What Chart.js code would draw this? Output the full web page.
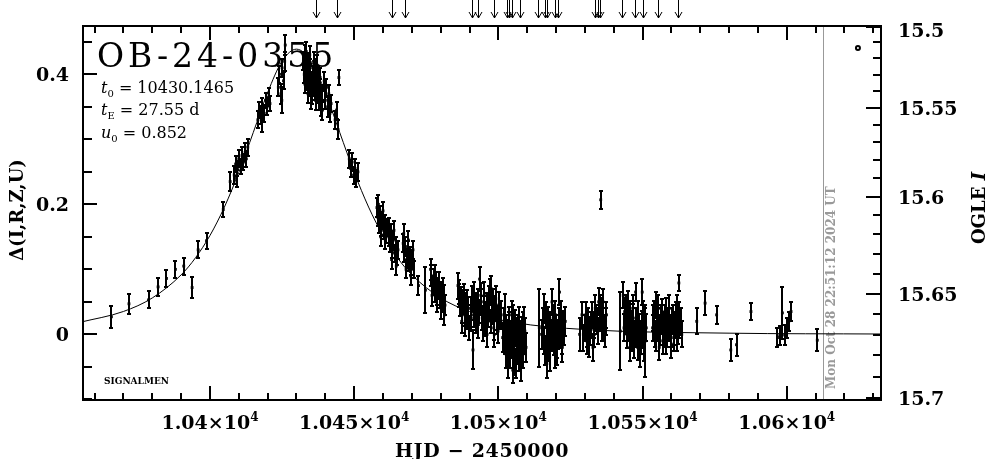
<!DOCTYPE html>
<html>
<head>
<meta charset="utf-8">
<script src="https://cdn.jsdelivr.net/npm/chart.js@4/dist/chart.umd.min.js"></script>
<style>
  html, body { margin: 0; padding: 0; background: #fff; }
  #lc { display: block; }
</style>
</head>
<body>
<canvas id="lc" width="986" height="459"></canvas>
<script>
"use strict";

// OGLE photometry: HJD-2450000, delta flux, error
const hjd = [
  10365.8, 10371.9, 10378.7, 10382.0, 10384.9, 10388.0, 10390.9, 10393.8, 10395.9, 10398.8, 10404.6, 10407.0,
  10408.4, 10408.9, 10409.2, 10409.5, 10410.0, 10410.6, 10411.1, 10411.6, 10412.2, 10412.6, 10413.1,
  10416.6, 10417.1, 10417.6, 10417.9, 10418.2, 10418.8, 10419.3, 10419.8, 10420.3, 10420.8,
  10423.7, 10424.1, 10424.6, 10424.9, 10425.0, 10425.5, 10425.9, 10426.1,
  10432.4, 10432.7, 10433.0, 10433.3, 10433.6, 10433.9, 10434.2, 10434.5, 10434.8, 10435.1, 10435.4, 10435.7,
  10436.0, 10436.3, 10436.6, 10436.9, 10437.2, 10437.5, 10437.8, 10438.1, 10438.4, 10438.7, 10439.0,
  10439.6, 10440.0, 10440.4, 10440.8, 10441.2, 10441.6, 10442.0, 10443.4, 10443.9, 10444.4, 10444.7,
  10448.3, 10448.8, 10449.3, 10449.8, 10450.3, 10450.8, 10451.3,
  10457.9, 10458.2, 10458.6, 10459.0, 10459.4, 10459.8, 10460.2, 10460.6, 10461.0, 10461.4,
  10462.0, 10462.4, 10462.8, 10463.2, 10463.6, 10464.0, 10464.4, 10464.8, 10465.2,
  10467.0, 10467.4, 10467.8, 10468.2, 10468.6, 10469.0, 10469.4, 10469.8, 10470.2, 10470.6,
  10472.3, 10474.7,
  10476.8, 10477.2, 10477.6, 10478.0, 10478.4, 10478.8, 10479.2, 10479.6, 10480.0, 10480.5, 10481.0, 10481.5,
  10486.0, 10486.3, 10486.7, 10487.1, 10487.5, 10487.9, 10488.3, 10488.7, 10489.1, 10489.5,
  10490.4, 10490.9, 10491.2, 10491.4, 10491.9, 10492.4, 10492.9, 10493.4, 10493.5, 10493.9, 10494.4, 10494.9,
  10495.4, 10495.9, 10496.4, 10496.9, 10497.4, 10497.6, 10497.9, 10498.4, 10498.9, 10499.4, 10499.9, 10500.4,
  10502.0, 10502.4, 10502.8, 10503.2, 10503.6, 10504.0, 10504.4, 10504.8, 10505.0, 10505.2, 10505.6, 10506.0,
  10506.4, 10506.8, 10507.2, 10507.6, 10508.0, 10508.4, 10508.8, 10509.2,
  10514.2, 10515.5, 10516.0, 10516.5, 10516.8, 10517.0, 10517.5, 10518.0, 10518.5, 10518.6, 10519.0, 10519.5,
  10520.0, 10520.5, 10521.0, 10521.2, 10521.5, 10522.0, 10522.5,
  10528.2, 10530.0, 10530.6, 10531.2, 10531.8, 10532.4, 10532.8, 10533.0, 10533.6, 10534.2, 10534.8, 10535.4,
  10535.5, 10536.0, 10536.6, 10537.2,
  10542.3, 10543.3, 10543.8, 10544.3, 10544.8, 10545.3, 10545.8, 10546.3, 10546.8, 10547.3, 10547.6, 10547.8,
  10548.3, 10548.8, 10549.3, 10549.8, 10549.9, 10550.3, 10550.8, 10551.0,
  10553.5, 10554.0, 10554.5, 10555.0, 10555.5, 10556.0, 10556.5, 10557.0, 10557.5, 10558.0, 10558.5, 10559.0,
  10559.5, 10560.0, 10560.5, 10561.0, 10561.5, 10562.0, 10562.5, 10563.2, 10562.6,
  10568.8, 10571.7, 10575.7, 10580.6, 10582.6, 10587.6,
  10596.8, 10597.6, 10598.5, 10599.3, 10600.0, 10600.7, 10601.5,
  10610.6,
  10490.6, 10491.6, 10492.2, 10493.1, 10494.1, 10494.6, 10495.1, 10495.6, 10496.1, 10496.6, 10497.1, 10498.1,
  10498.6, 10499.1, 10499.6, 10500.1,
  10501.0, 10501.5, 10502.2, 10502.6, 10503.0, 10503.4, 10503.8, 10504.2, 10504.6, 10505.4, 10505.8, 10506.2,
  10506.6, 10507.0, 10507.4, 10507.8, 10508.2, 10508.6, 10509.0, 10509.6,
  10515.0, 10515.8, 10516.3, 10517.2, 10517.8, 10518.2, 10518.8, 10519.2, 10519.8, 10520.2, 10520.8, 10521.8,
  10522.2, 10522.8, 10523.2,
  10529.0, 10529.5, 10530.3, 10530.9, 10531.5, 10532.1, 10533.3, 10533.9, 10534.5, 10535.1, 10535.8, 10536.3,
  10536.9, 10537.5,
  10543.6, 10544.1, 10544.6, 10545.1, 10545.6, 10546.1, 10546.6, 10547.1, 10548.0, 10548.6, 10549.1, 10549.6,
  10550.1, 10550.6, 10551.3,
  10553.8, 10554.3, 10554.8, 10555.3, 10555.8, 10556.3, 10556.8, 10557.3, 10557.8, 10558.3, 10558.8, 10559.3,
  10559.8, 10560.3, 10560.8, 10561.3, 10561.8, 10562.3, 10562.8, 10563.6,
  10476.5, 10477.0, 10477.9, 10478.6, 10479.4, 10480.2, 10480.8, 10481.3,
  10486.5, 10487.3, 10488.0, 10488.5, 10489.3, 10489.8,
  10432.9, 10433.4, 10434.0, 10434.6, 10435.2, 10435.9, 10436.4, 10437.0, 10437.6, 10438.2, 10438.9,
  10458.4, 10459.2, 10460.0, 10460.8, 10462.2, 10463.0, 10463.8, 10464.6, 10467.2, 10468.0, 10468.8, 10469.6,
  10470.4
];
const delta = [
  0.027, 0.047, 0.053, 0.073, 0.086, 0.100, 0.105, 0.072, 0.130, 0.144, 0.192, 0.235,
  0.245, 0.262, 0.240, 0.255, 0.270, 0.258, 0.275, 0.265, 0.280, 0.270, 0.288,
  0.330, 0.345, 0.338, 0.325, 0.352, 0.340, 0.360, 0.350, 0.365, 0.355,
  0.380, 0.400, 0.370, 0.360, 0.410, 0.390, 0.420, 0.445,
  0.420, 0.400, 0.430, 0.410, 0.390, 0.420, 0.400, 0.380, 0.410, 0.390, 0.370, 0.400,
  0.380, 0.410, 0.360, 0.390, 0.370, 0.400, 0.360, 0.380, 0.350, 0.370, 0.345,
  0.390, 0.360, 0.380, 0.350, 0.370, 0.340, 0.355, 0.330, 0.345, 0.315, 0.395,
  0.270, 0.255, 0.265, 0.245, 0.255, 0.240, 0.250,
  0.195, 0.180, 0.170, 0.185, 0.165, 0.175, 0.160, 0.170, 0.155, 0.165,
  0.150, 0.140, 0.155, 0.130, 0.145, 0.125, 0.135, 0.120, 0.130,
  0.140, 0.125, 0.135, 0.115, 0.130, 0.110, 0.120, 0.105, 0.115, 0.100,
  0.075, 0.068,
  0.090, 0.075, 0.085, 0.065, 0.080, 0.060, 0.070, 0.055, 0.065, 0.050, 0.060, 0.045,
  0.075, 0.060, 0.045, 0.055, 0.035, 0.050, 0.030, 0.045, 0.025, 0.040,
  0.040, 0.055, -0.024, 0.030, 0.045, 0.020, 0.050, 0.035, 0.085, 0.060, 0.025, 0.040,
  0.015, 0.045, 0.030, 0.055, 0.020, 0.070, 0.035, 0.010, 0.040, 0.025, 0.005, 0.030,
  0.020, -0.010, 0.010, -0.020, 0.015, -0.030, 0.000, -0.015, -0.055, 0.025, -0.040, 0.005,
  -0.025, 0.010, -0.035, 0.000, -0.020, 0.015, -0.010, 0.005,
  0.010, 0.020, -0.010, 0.030, -0.045, 0.000, -0.020, 0.015, -0.005, 0.050, 0.025, -0.030,
  0.010, -0.015, 0.020, 0.065, 0.000, -0.010, 0.015,
  0.000, 0.010, -0.010, 0.020, 0.005, 0.030, -0.020, 0.015, 0.040, 0.020, 0.050, 0.025,
  0.207, 0.035, 0.010, 0.020,
  0.005, 0.060, 0.035, 0.020, 0.045, 0.010, 0.030, -0.005, 0.025, 0.000, 0.065, 0.020,
  -0.020, 0.010, -0.010, 0.015, 0.065, 0.000, 0.020, -0.010,
  0.010, 0.030, -0.005, 0.020, 0.040, 0.005, 0.025, -0.010, 0.015, 0.035, 0.000, 0.020,
  0.010, -0.015, 0.025, 0.005, 0.030, -0.005, 0.015, 0.020, 0.079,
  0.020, 0.048, 0.030, -0.024, -0.016, 0.035,
  -0.005, -0.002, 0.033, -0.001, 0.010, 0.020, 0.035,
  -0.009,
  0.025, 0.060, 0.040, 0.015, 0.050, 0.010, 0.060, 0.030, 0.000, 0.040, 0.065, 0.050,
  0.000, 0.055, 0.020, 0.045,
  0.030, -0.005, 0.040, -0.030, 0.000, -0.045, 0.020, -0.010, 0.030, -0.020, 0.015, -0.045,
  -0.005, 0.020, -0.015, -0.050, 0.005, -0.030, 0.020, -0.020,
  0.000, 0.040, -0.025, 0.020, -0.035, 0.000, 0.010, -0.010, 0.030, -0.025, 0.000, 0.030,
  -0.020, 0.005, 0.020,
  0.030, -0.005, 0.030, 0.000, -0.015, 0.015, 0.000, 0.025, 0.005, 0.040, 0.010, 0.050,
  0.000, 0.030,
  0.010, 0.040, 0.000, 0.030, -0.020, 0.015, 0.040, -0.015, 0.005, 0.030, -0.030, 0.000,
  0.030, -0.020, 0.010,
  0.025, 0.000, 0.045, 0.010, -0.020, 0.020, 0.035, 0.000, 0.025, -0.010, 0.010, 0.040,
  0.000, 0.020, -0.005, 0.015, 0.040, 0.005, 0.030, 0.000,
  0.100, 0.060, 0.090, 0.050, 0.080, 0.040, 0.070, 0.030,
  0.065, 0.020, 0.060, 0.015, 0.050, 0.010,
  0.385, 0.435, 0.370, 0.430, 0.360, 0.420, 0.375, 0.415, 0.380, 0.395, 0.360,
  0.200, 0.150, 0.190, 0.145, 0.165, 0.115, 0.160, 0.105, 0.155, 0.100, 0.145, 0.090,
  0.130
];
const sigma = [
  0.017, 0.015, 0.013, 0.014, 0.013, 0.013, 0.013, 0.016, 0.013, 0.012, 0.012, 0.014,
  0.014, 0.013, 0.013, 0.012, 0.013, 0.012, 0.013, 0.012, 0.014, 0.012, 0.013,
  0.013, 0.012, 0.014, 0.013, 0.012, 0.013, 0.012, 0.013, 0.014, 0.012,
  0.014, 0.013, 0.015, 0.020, 0.014, 0.013, 0.015, 0.016,
  0.014, 0.013, 0.015, 0.013, 0.014, 0.013, 0.015, 0.013, 0.014, 0.013, 0.015, 0.013,
  0.014, 0.013, 0.015, 0.013, 0.014, 0.013, 0.015, 0.013, 0.014, 0.013, 0.015,
  0.013, 0.014, 0.013, 0.015, 0.013, 0.014, 0.013, 0.014, 0.013, 0.015, 0.012,
  0.014, 0.013, 0.014, 0.013, 0.014, 0.013, 0.014,
  0.014, 0.013, 0.014, 0.013, 0.014, 0.013, 0.014, 0.013, 0.014, 0.013,
  0.014, 0.013, 0.014, 0.013, 0.014, 0.013, 0.014, 0.013, 0.014,
  0.014, 0.013, 0.014, 0.013, 0.014, 0.013, 0.014, 0.013, 0.014, 0.013,
  0.015, 0.035,
  0.016, 0.015, 0.016, 0.015, 0.016, 0.015, 0.016, 0.015, 0.016, 0.015, 0.016, 0.015,
  0.020, 0.018, 0.017, 0.018, 0.017, 0.018, 0.017, 0.018, 0.017, 0.018,
  0.018, 0.019, 0.030, 0.018, 0.019, 0.018, 0.019, 0.018, 0.018, 0.019, 0.018, 0.019,
  0.018, 0.019, 0.018, 0.019, 0.018, 0.020, 0.019, 0.018, 0.019, 0.018, 0.019, 0.018,
  0.020, 0.021, 0.020, 0.022, 0.020, 0.022, 0.020, 0.021, 0.020, 0.020, 0.022, 0.020,
  0.021, 0.020, 0.022, 0.020, 0.021, 0.020, 0.021, 0.020,
  0.060, 0.020, 0.021, 0.020, 0.022, 0.020, 0.021, 0.020, 0.021, 0.020, 0.020, 0.022,
  0.020, 0.021, 0.020, 0.020, 0.021, 0.020, 0.021,
  0.025, 0.020, 0.021, 0.020, 0.021, 0.020, 0.021, 0.020, 0.021, 0.020, 0.021, 0.020,
  0.014, 0.021, 0.020, 0.021,
  0.060, 0.020, 0.021, 0.020, 0.021, 0.020, 0.021, 0.020, 0.021, 0.020, 0.014, 0.021,
  0.020, 0.021, 0.020, 0.021, 0.020, 0.020, 0.021, 0.055,
  0.020, 0.021, 0.020, 0.021, 0.020, 0.021, 0.020, 0.021, 0.020, 0.021, 0.020, 0.021,
  0.020, 0.021, 0.020, 0.021, 0.020, 0.021, 0.020, 0.021, 0.013,
  0.020, 0.018, 0.014, 0.017, 0.017, 0.013,
  0.015, 0.015, 0.040, 0.015, 0.015, 0.015, 0.015,
  0.017,
  0.020, 0.020, 0.020, 0.020, 0.020, 0.020, 0.020, 0.020, 0.020, 0.020, 0.020, 0.020,
  0.020, 0.020, 0.020, 0.020,
  0.022, 0.022, 0.022, 0.022, 0.022, 0.022, 0.022, 0.022, 0.022, 0.022, 0.022, 0.022,
  0.022, 0.022, 0.022, 0.022, 0.022, 0.022, 0.022, 0.022,
  0.022, 0.022, 0.022, 0.022, 0.022, 0.022, 0.022, 0.022, 0.022, 0.022, 0.022, 0.022,
  0.022, 0.022, 0.022,
  0.020, 0.020, 0.020, 0.020, 0.020, 0.020, 0.020, 0.020, 0.020, 0.020, 0.020, 0.020,
  0.020, 0.020,
  0.021, 0.021, 0.021, 0.021, 0.021, 0.021, 0.021, 0.021, 0.021, 0.021, 0.021, 0.021,
  0.021, 0.021, 0.021,
  0.020, 0.020, 0.020, 0.020, 0.020, 0.020, 0.020, 0.020, 0.020, 0.020, 0.020, 0.020,
  0.020, 0.020, 0.020, 0.020, 0.020, 0.020, 0.020, 0.020,
  0.016, 0.016, 0.016, 0.016, 0.016, 0.016, 0.016, 0.016,
  0.018, 0.018, 0.018, 0.018, 0.018, 0.018,
  0.014, 0.014, 0.014, 0.014, 0.014, 0.014, 0.014, 0.014, 0.014, 0.014, 0.014,
  0.014, 0.014, 0.014, 0.014, 0.014, 0.014, 0.014, 0.014, 0.014, 0.014, 0.014, 0.014,
  0.014
];

// fitted curve as drawn on the plot
const modelT = [10355, 10370, 10380, 10390, 10395, 10400, 10405, 10410, 10415, 10420, 10425, 10430,
  10435, 10440, 10445, 10450, 10455, 10460, 10465, 10470, 10480, 10490, 10505, 10530, 10580, 10633];
const modelD = [0.0186, 0.0352, 0.056, 0.0915, 0.1179, 0.1521, 0.1958, 0.2492, 0.3104, 0.372, 0.4202, 0.4387,
  0.4202, 0.372, 0.3104, 0.2492, 0.1958, 0.1521, 0.1179, 0.0915, 0.056, 0.0352, 0.0186, 0.0074, 0.0018, 0.0005];

// arrows along the top edge
const arrowT = [10436.8, 10443.9, 10463.0, 10467.6, 10490.8, 10492.9, 10498.6, 10502.9, 10503.7, 10504.6,
  10507.5, 10513.9, 10516.2, 10516.8, 10519.6, 10520.8, 10533.5, 10534.6, 10535.3, 10542.8, 10547.4,
  10550.3, 10555.5, 10562.4];

// small open circle, top right
const markT = [10624.7];
const markD = [0.4405];

const xMajor = [10400, 10450, 10500, 10550, 10600];
const yLabels = [0, 0.2, 0.4];
const ogleLabels = [15.5, 15.55, 15.6, 15.65, 15.7];
const nowT = 10612.7;
const nowText = 'Mon Oct 28 22:51:12 2024 UT';

const SERIF = '"DejaVu Serif", "Liberation Serif", serif';

// OGLE I magnitude -> position on the delta axis
function magToDelta(m) {
  const s = (15.7 - m) / 0.05;
  return -0.0985 + 0.1674 * s - 0.00614 * s * s;
}

function line(ctx, x1, y1, x2, y2) {
  ctx.beginPath();
  ctx.moveTo(x1, y1);
  ctx.lineTo(x2, y2);
  ctx.stroke();
}

// text like "t" + subscript + rest
function subText(ctx, x, y, main, sub, rest) {
  ctx.font = 'italic 16px ' + SERIF;
  ctx.fillText(main, x, y);
  x += ctx.measureText(main).width;
  ctx.font = '10px ' + SERIF;
  ctx.fillText(sub, x, y + 4);
  x += ctx.measureText(sub).width;
  ctx.font = '16px ' + SERIF;
  ctx.fillText(rest, x, y);
}

const decor = {
  id: 'decor',
  beforeDatasetsDraw(chart) {
    const ctx = chart.ctx;
    const a = chart.chartArea;
    const xs = chart.scales.x;
    ctx.save();
    // time of plotting
    const xn = Math.round(xs.getPixelForValue(nowT));
    ctx.strokeStyle = '#999';
    ctx.lineWidth = 1;
    line(ctx, xn + 0.5, a.top, xn + 0.5, a.bottom);
    ctx.fillStyle = '#999';
    ctx.font = 'bold 12px ' + SERIF;
    ctx.translate(xn + 12, a.bottom - 11);
    ctx.rotate(-Math.PI / 2);
    ctx.fillText(nowText, 0, 0);
    ctx.restore();

    ctx.save();
    ctx.fillStyle = '#000';
    ctx.font = '33px ' + SERIF;
    ctx.letterSpacing = '4px';
    ctx.fillText('OB-24-0355', 97, 67);
    ctx.letterSpacing = '0px';
    subText(ctx, 101, 93, 't', '0', ' = 10430.1465');
    subText(ctx, 101, 115, 't', 'E', ' = 27.55 d');
    subText(ctx, 101, 138, 'u', '0', ' = 0.852');
    ctx.font = 'bold 9px ' + SERIF;
    ctx.fillText('SIGNALMEN', 104, 384);
    ctx.restore();
  },
  afterDatasetsDraw(chart) {
    const ctx = chart.ctx;
    const xs = chart.scales.x, ys = chart.scales.y;
    ctx.save();
    ctx.beginPath();
    const a = chart.chartArea;
    ctx.rect(a.left, a.top, a.right - a.left, a.bottom - a.top);
    ctx.clip();
    ctx.strokeStyle = '#000';
    ctx.lineWidth = 2;
    for (let i = 0; i < hjd.length; i++) {
      const x = Math.round(xs.getPixelForValue(hjd[i]));
      const y1 = Math.round(ys.getPixelForValue(delta[i] - sigma[i]));
      const y2 = Math.round(ys.getPixelForValue(delta[i] + sigma[i]));
      line(ctx, x, y1, x, y2);
      line(ctx, x - 2, y1, x + 2, y1);
      line(ctx, x - 2, y2, x + 2, y2);
    }
    ctx.restore();
  },
  afterDraw(chart) {
    const ctx = chart.ctx;
    const a = chart.chartArea;
    const xs = chart.scales.x, ys = chart.scales.y;
    ctx.save();
    ctx.strokeStyle = '#000';
    ctx.fillStyle = '#000';
    ctx.lineWidth = 2;
    ctx.strokeRect(a.left, a.top, a.right - a.left, a.bottom - a.top);

    // x ticks, bottom and top
    for (let t = 10360; t <= 10630; t += 10) {
      const x = Math.round(xs.getPixelForValue(t));
      const len = xMajor.includes(t) ? 14 : 7;
      line(ctx, x, a.bottom, x, a.bottom - len);
      line(ctx, x, a.top, x, a.top + len);
    }
    // delta ticks, left
    for (let k = -2; k <= 9; k++) {
      const v = k * 0.05;
      const y = Math.round(ys.getPixelForValue(v));
      const len = (k % 4 === 0) ? 14 : 9;
      line(ctx, a.left, y, a.left + len, y);
    }
    // magnitude ticks, right
    for (let k = 0; k <= 20; k++) {
      const m = 15.5 + k * 0.01;
      const y = Math.round(ys.getPixelForValue(magToDelta(m)));
      const len = (k % 5 === 0) ? 15 : 8;
      line(ctx, a.right, y, a.right - len, y);
    }

    // tick labels
    ctx.textAlign = 'left';
    xMajor.forEach(t => {
      const x = xs.getPixelForValue(t);
      const main = String(t / 1e4) + '\u00d710';
      ctx.font = 'bold 19px ' + SERIF;
      const w1 = ctx.measureText(main).width;
      ctx.font = 'bold 12px ' + SERIF;
      const w2 = ctx.measureText('4').width;
      const x0 = x - (w1 + w2) / 2;
      ctx.font = 'bold 19px ' + SERIF;
      ctx.fillText(main, x0, 429);
      ctx.font = 'bold 12px ' + SERIF;
      ctx.fillText('4', x0 + w1, 421);
    });
    ctx.font = 'bold 19px ' + SERIF;
    ctx.textAlign = 'right';
    yLabels.forEach(v => {
      ctx.fillText(String(v), 69, ys.getPixelForValue(v) + 7);
    });
    ctx.textAlign = 'left';
    ogleLabels.forEach(m => {
      const y = Math.max(ys.getPixelForValue(magToDelta(m)), a.top + 4);
      ctx.fillText(String(m), 898, y + 7);
    });

    // axis titles
    ctx.textAlign = 'center';
    ctx.letterSpacing = '0.7px';
    ctx.fillText('HJD \u2212 2450000', 482, 457);
    ctx.letterSpacing = '0px';
    ctx.save();
    ctx.translate(23, 210);
    ctx.rotate(-Math.PI / 2);
    ctx.font = 'bold 18px ' + SERIF;
    ctx.fillText('\u0394(I,R,Z,U)', 0, 0);
    ctx.restore();
    ctx.save();
    ctx.translate(985, 208);
    ctx.rotate(-Math.PI / 2);
    ctx.textAlign = 'left';
    ctx.font = 'bold 18px ' + SERIF;
    const w1 = ctx.measureText('OGLE ').width;
    ctx.font = 'bold italic 18px ' + SERIF;
    const w2 = ctx.measureText('I').width;
    const x0 = -(w1 + w2) / 2;
    ctx.font = 'bold 18px ' + SERIF;
    ctx.fillText('OGLE ', x0, 0);
    ctx.font = 'bold italic 18px ' + SERIF;
    ctx.fillText('I', x0 + w1, 0);
    ctx.restore();

    // arrows above the frame
    ctx.lineWidth = 1;
    arrowT.forEach(t => {
      const x = Math.round(xs.getPixelForValue(t)) + 0.5;
      line(ctx, x, 0, x, 18);
      ctx.beginPath();
      ctx.moveTo(x - 3.5, 12);
      ctx.lineTo(x, 18);
      ctx.lineTo(x + 3.5, 12);
      ctx.stroke();
    });
    ctx.restore();
  }
};

new Chart(document.getElementById('lc'), {
  data: {
    datasets: [
      {
        type: 'line',
        data: modelT.map((t, i) => ({ x: t, y: modelD[i] })),
        borderColor: '#000',
        borderWidth: 1,
        pointRadius: 0,
        cubicInterpolationMode: 'monotone',
        order: 3
      },
      {
        type: 'scatter',
        data: hjd.map((t, i) => ({ x: t, y: delta[i] })),
        pointStyle: 'rect',
        pointRadius: 2,
        backgroundColor: '#000',
        borderColor: '#000',
        borderWidth: 0,
        order: 2
      },
      {
        type: 'scatter',
        data: markT.map((t, i) => ({ x: t, y: markD[i] })),
        pointStyle: 'circle',
        pointRadius: 2,
        backgroundColor: '#fff',
        borderColor: '#000',
        borderWidth: 2,
        order: 1
      }
    ]
  },
  options: {
    responsive: false,
    animation: false,
    devicePixelRatio: 1,
    layout: { padding: { left: 83, right: 105, top: 26, bottom: 59 } },
    scales: {
      x: { type: 'linear', min: 10355.96, max: 10632.7, display: false },
      y: { type: 'linear', min: -0.101, max: 0.4743, display: false }
    },
    plugins: {
      legend: { display: false },
      tooltip: { enabled: false }
    }
  },
  plugins: [decor]
});
</script>
</body>
</html>
